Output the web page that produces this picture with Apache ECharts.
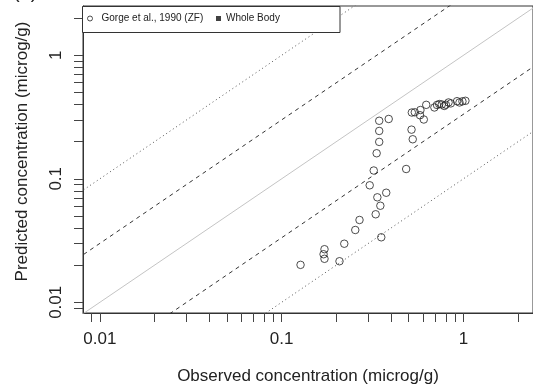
<!DOCTYPE html>
<html>
<head>
<meta charset="utf-8">
<script src="https://cdn.jsdelivr.net/npm/echarts@6/dist/echarts.min.js"></script>
<style>
html,body{margin:0;padding:0;background:#fff;}
#chart{width:533px;height:390px;}
</style>
</head>
<body>
<div id="chart"></div>
<script>
// Observed (x) and predicted (y) concentrations, microg/g
var observed = [0.127,0.172,0.170,0.172,0.208,0.221,0.254,0.268,0.353,0.329,0.349,0.336,0.376,0.305,0.321,0.333,0.344,0.344,0.344,0.388,0.484,0.526,0.518,0.520,0.540,0.580,0.577,0.605,0.624,0.692,0.715,0.736,0.760,0.784,0.800,0.828,0.852,0.922,0.951,0.987,1.025];
var predicted = [0.0201,0.0269,0.0245,0.0225,0.0215,0.0298,0.0385,0.0464,0.0336,0.0516,0.0605,0.0708,0.0771,0.0886,0.1167,0.161,0.199,0.244,0.295,0.305,0.120,0.209,0.250,0.344,0.3455,0.3605,0.327,0.302,0.397,0.378,0.396,0.403,0.400,0.389,0.398,0.415,0.408,0.425,0.415,0.424,0.428];

// Reference lines y = factor * x
var refFactors = [10, 3, 1, 1/3, 1/10];
var refExtent = [0.001, 10];

// Axis ticks and labels
var tickValues = [0.009,0.01,0.02,0.03,0.04,0.05,0.06,0.07,0.08,0.09,0.1,0.2,0.3,0.4,0.5,0.6,0.7,0.8,0.9,1,2];
var labelValues = [0.01, 0.1, 1];

var seriesName = 'Gorge et al., 1990 (ZF)';
var secondLegend = 'Whole Body';

var refStyles = {
  10: {color:'#555', type:[1,3]},
  3: {color:'#333', type:[4,4]},
  1: {color:'#c4c4c4', type:'solid'}
};
function styleFor(f){
  var k = f >= 1 ? f : Math.round(1/f);
  return refStyles[k];
}

var series = refFactors.map(function(f){
  var st = styleFor(f);
  return {
    type:'line', silent:true, symbol:'none', clip:true, z:1,
    lineStyle:{color:st.color, width:1, type:st.type},
    data: refExtent.map(function(x){ return [x, x*f]; })
  };
});
series.push({
  name: seriesName, type:'scatter', symbol:'circle', symbolSize:7.5, z:5,
  itemStyle:{color:'rgba(0,0,0,0)', borderColor:'#222', borderWidth:1},
  data: observed.map(function(x,i){ return [x, predicted[i]]; })
});
series.push({
  name: secondLegend, type:'scatter', symbol:'rect', data: [],
  itemStyle:{color:'#111'}
});

var font = 'Liberation Sans, Arial, sans-serif';
var chart = echarts.init(document.getElementById('chart'), null, {renderer:'canvas'});
chart.setOption({
  animation:false,
  backgroundColor:'#fff',
  grid:{left:83, top:6, right:-3, bottom:77, show:true, borderColor:'#333', borderWidth:1, backgroundColor:'transparent'},
  xAxis:{
    type:'log', logBase:10, min:0.008074, max:2.413,
    name:'Observed concentration (microg/g)', nameLocation:'middle', nameGap:55,
    nameTextStyle:{fontFamily:font, fontSize:17, color:'#222'},
    axisLine:{show:true, lineStyle:{color:'#333', width:1}},
    axisTick:{show:true, length:9, lineStyle:{color:'#444'}, customValues: tickValues},
    axisLabel:{fontFamily:font, fontSize:17, color:'#222', margin:18, customValues: labelValues,
      formatter:function(v){ return String(+v.toPrecision(3)); }},
    splitLine:{show:false}, minorTick:{show:false}
  },
  yAxis:{
    type:'log', logBase:10, min:0.00819, max:2.507,
    name:'Predicted concentration (microg/g)', nameLocation:'middle', nameGap:52, nameRotate:90,
    nameTextStyle:{fontFamily:font, fontSize:17, color:'#222', padding:[0,0,0,16]},
    axisLine:{show:true, lineStyle:{color:'#333', width:1}},
    axisTick:{show:true, length:9, lineStyle:{color:'#444'}, customValues: tickValues},
    axisLabel:{fontFamily:font, fontSize:17, color:'#222', margin:18, rotate:90, customValues: labelValues,
      formatter:function(v){ return String(+v.toPrecision(3)); }},
    splitLine:{show:false}, minorTick:{show:false}
  },
  graphic:[
    {type:'rect', z:10, shape:{x:82.5, y:6.5, width:257.5, height:26}, style:{fill:'#fff', stroke:'#333', lineWidth:1}},
    {type:'text', z:10, left:13, top:-18, style:{text:'(a)', fontFamily:font, fontSize:20, fill:'#222'}}
  ],
  legend:[
    {data:[{name:seriesName, icon:'circle', itemStyle:{color:'#fff', borderColor:'#222', borderWidth:1}}],
     left:87, top:13.5, padding:0, itemWidth:13, itemHeight:5, z:20,
     textStyle:{fontFamily:font, fontSize:10, color:'#222'}},
    {data:[{name:secondLegend, icon:'rect', itemStyle:{color:'#111'}}],
     left:216, top:13.5, padding:0, itemWidth:5, itemHeight:5, z:20,
     textStyle:{fontFamily:font, fontSize:10, color:'#222'}}
  ],
  series: series
});
</script>
</body>
</html>
